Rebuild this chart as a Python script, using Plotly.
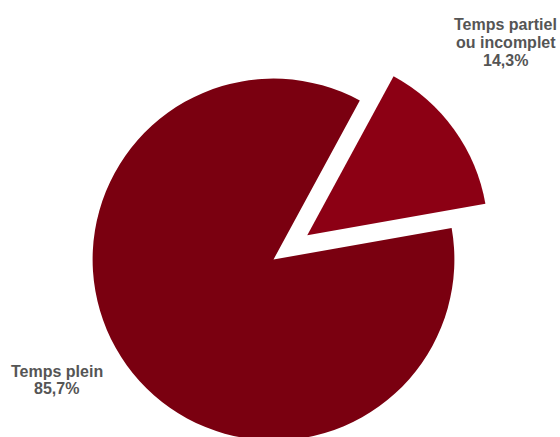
import plotly.graph_objects as go

labels = ["Temps partiel<br>ou incomplet", "Temps plein"]
values = [14.3, 85.7]
colors = ["#8c0014", "#7a0010"]
pulls = [0.23, 0]

# label anchor positions (paper coords) for each slice's text block
label_x = [0.925, 0.104]
label_y_top = [1.027, 0.2494]
line_step = 0.0395

fig = go.Figure(go.Pie(
    labels=labels,
    values=values,
    sort=False,
    direction="clockwise",
    rotation=28.5,
    pull=pulls,
    marker=dict(colors=colors, line=dict(width=0)),
    textinfo="none",
    hoverinfo="label+percent",
    showlegend=False,
))

total = sum(values)
for i, (lab, val) in enumerate(zip(labels, values)):
    pct = f"{100 * val / total:.1f}".replace(".", ",") + "%"
    lines = lab.split("<br>") + [pct]
    for j, line in enumerate(lines):
        fig.add_annotation(
            x=label_x[i], y=label_y_top[i] - j * line_step,
            xref="paper", yref="paper",
            xanchor="center", yanchor="middle",
            text=line, showarrow=False,
            font=dict(family="Liberation Sans, Arial, sans-serif", size=16,
                      color="#555555", weight="bold"),
        )

fig.update_layout(
    width=560,
    height=482,
    margin=dict(l=0, r=13, t=37, b=0),
    paper_bgcolor="white",
    plot_bgcolor="white",
)

fig.write_html(
    "out.html",
    config={"displayModeBar": False},
    post_script="document.body.style.margin='0';document.body.style.overflow='hidden';document.documentElement.style.overflow='hidden';",
)
